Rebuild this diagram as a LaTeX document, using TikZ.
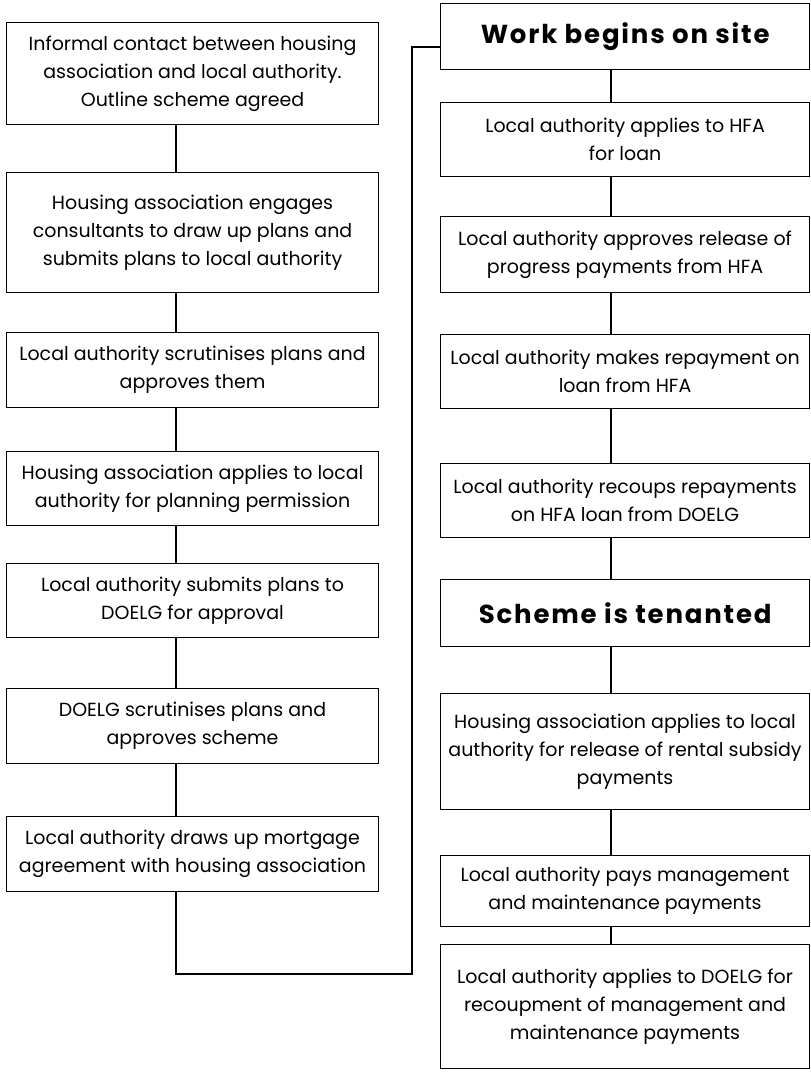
\documentclass[tikz,border=0pt]{standalone}
\usepackage{fontspec}
\setmainfont{Poppins}
\begin{document}
\begin{tikzpicture}[x=1pt,y=-1pt,
  box/.style={draw=black, line width=1.1pt, anchor=north west, inner sep=0pt,
    align=center, font=\fontsize{19}{28}\selectfont},
  lbox/.style={box, minimum width=372pt},
  rbox/.style={box, minimum width=369pt},
  boldbox/.style={rbox, line width=1.4pt, font=\fontsize{26}{30}\selectfont\bfseries\addfontfeatures{LetterSpace=7}},
  conn/.style={draw=black, line width=1.8pt}]
\useasboundingbox (0,0) rectangle (811,1072);
\fill[white] (0,0) rectangle (811,1072);
% left column
\node[lbox, minimum height=102pt] (l1) at (6,22) {Informal contact between housing\\association and local authority.\\Outline scheme agreed};
\node[lbox, minimum height=120pt] (l2) at (6,172) {Housing association engages\\consultants to draw up plans and\\submits plans to local authority};
\node[lbox, minimum height=75pt] (l3) at (6,332) {Local authority scrutinises plans and\\approves them};
\node[lbox, minimum height=74pt] (l4) at (6,451) {Housing association applies to local\\authority for planning permission};
\node[lbox, minimum height=74pt] (l5) at (6,563) {Local authority submits plans to\\DOELG for approval};
\node[lbox, minimum height=75pt] (l6) at (6,688) {DOELG scrutinises plans and\\approves scheme};
\node[lbox, minimum height=75pt] (l7) at (6,816) {Local authority draws up mortgage\\agreement with housing association};
% right column
\node[boldbox, minimum height=66pt] (r1) at (440,3) {Work begins on site};
\node[rbox, minimum height=74pt] (r2) at (440,102) {Local authority applies to HFA\\for loan};
\node[rbox, minimum height=76pt] (r3) at (440,216) {Local authority approves release of\\progress payments from HFA};
\node[rbox, minimum height=74pt] (r4) at (440,334) {Local authority makes repayment on\\loan from HFA};
\node[rbox, minimum height=74pt] (r5) at (440,463) {Local authority recoups repayments\\on HFA loan from DOELG};
\node[boldbox, minimum height=67pt] (r6) at (440,579) {Scheme is tenanted};
\node[rbox, minimum height=116pt] (r7) at (440,693) {Housing association applies to local\\authority for release of rental subsidy\\payments};
\node[rbox, minimum height=71pt] (r8) at (440,855) {Local authority pays management\\and maintenance payments};
\node[rbox, minimum height=124pt] (r9) at (440,944) {Local authority applies to DOELG for\\recoupment of management and\\maintenance payments};
% connector columns
\coordinate (lx) at (176,0);
\coordinate (rx) at (611,0);
\coordinate (jx) at (412,0);
\coordinate (bot) at (0,974);
\coordinate (top) at (0,47);
\foreach \a/\b in {l1/l2,l2/l3,l3/l4,l4/l5,l5/l6,l6/l7}
  \draw[conn] (\a.south -| lx) -- (\b.north -| lx);
\foreach \a/\b in {r1/r2,r2/r3,r3/r4,r4/r5,r5/r6,r6/r7,r7/r8,r8/r9}
  \draw[conn] (\a.south -| rx) -- (\b.north -| rx);
\draw[conn, line join=miter] (l7.south -| lx) -- (lx |- bot) -- (jx |- bot) -- (jx |- top) -- (r1.west |- top);
\end{tikzpicture}
\end{document}
